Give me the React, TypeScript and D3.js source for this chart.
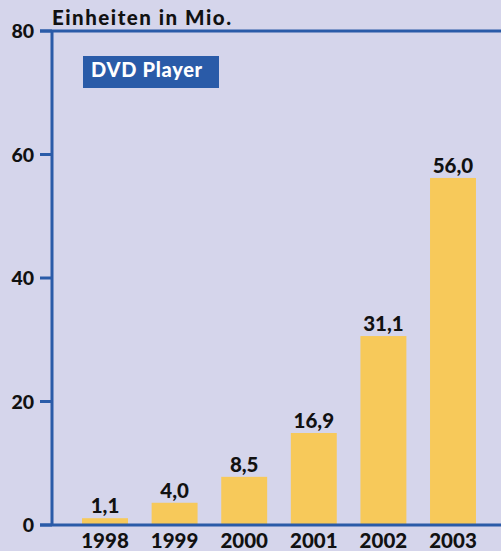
import React from "react";
import * as d3 from "d3";

const years = ["1998", "1999", "2000", "2001", "2002", "2003"];
const barValues = [1.1, 3.6, 7.8, 14.9, 30.6, 56.2];
const valueLabels = ["1,1", "4,0", "8,5", "16,9", "31,1", "56,0"];
const yTicks = [0, 20, 40, 60, 80];
const unitTitle = "Einheiten in Mio.";
const seriesTitle = "DVD Player";

const W = 501;
const H = 551;
const BG = "#D5D5EB";
const BLUE = "#2A5BA8";
const BAR = "#F7C95A";
const FONT = "Lato, 'DejaVu Sans', sans-serif";

export default function App() {
  const y = d3.scaleLinear().domain([0, 80]).range([525, 31]);
  const x = d3.scaleBand().domain(years).range([70.2, 487.8]).paddingInner(0.34).paddingOuter(0.17);
  const axisX = 52;
  return (
    <div style={{ position: "fixed", left: 0, top: 0, width: W, height: H }}>
      <svg width={W} height={H} style={{ display: "block" }}>
        <rect x={0} y={0} width={W} height={H} fill={BG} />
        {years.map((yr, i) => (
          <rect key={yr} x={x(yr)} y={y(barValues[i])} width={x.bandwidth()} height={y(0) - y(barValues[i]) - 1} fill={BAR} />
        ))}
        <line x1={40} x2={W} y1={y(80)} y2={y(80)} stroke={BLUE} strokeWidth={3} />
        <line x1={40} x2={W} y1={y(0)} y2={y(0)} stroke={BLUE} strokeWidth={3} />
        <line x1={axisX} x2={axisX} y1={y(80)} y2={y(0)} stroke={BLUE} strokeWidth={3} />
        {yTicks.map((t) => (
          <g key={t}>
            <line x1={40} x2={axisX} y1={y(t)} y2={y(t)} stroke={BLUE} strokeWidth={3} />
            <text x={34} y={y(t)} dy="0.36em" textAnchor="end" fontFamily={FONT} fontWeight={900} fontSize={19.5} fill="#111">{t}</text>
          </g>
        ))}
        {years.map((yr, i) => (
          <g key={"l" + yr}>
            <text x={(x(yr) as number) + x.bandwidth() / 2} y={y(barValues[i]) - 5} textAnchor="middle" fontFamily={FONT} fontWeight={900} fontSize={20.5} fill="#111">{valueLabels[i]}</text>
            <text x={(x(yr) as number) + x.bandwidth() / 2} y={548} textAnchor="middle" fontFamily={FONT} fontWeight={900} fontSize={20.5} fill="#111">{yr}</text>
          </g>
        ))}
        <text x={52} y={25} fontFamily={FONT} fontWeight={900} fontSize={20.5} letterSpacing={1.5} fill="#111">{unitTitle}</text>
        <rect x={83} y={56} width={136} height={32} fill={BLUE} />
        <text x={91} y={77} fontFamily={FONT} fontWeight={900} fontSize={20} letterSpacing={0.7} fill="#fff">{seriesTitle}</text>
      </svg>
    </div>
  );
}
